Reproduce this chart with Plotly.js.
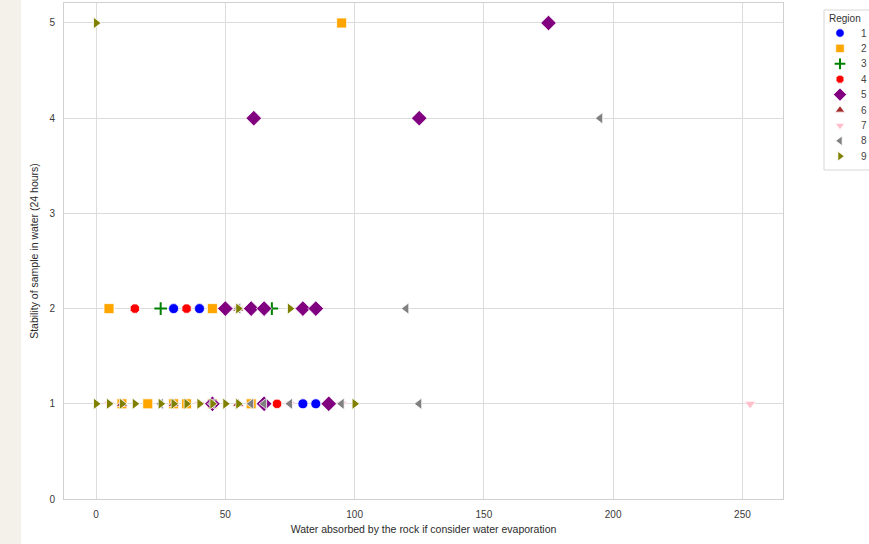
<!DOCTYPE html>
<html>
<head>
<meta charset="utf-8">
<script src="https://cdn.plot.ly/plotly-3.0.1.min.js"></script>
<style>
html,body{margin:0;padding:0;background:#f3f1ea;}
#wrap{position:absolute;left:21px;top:0;width:848px;height:544px;background:#ffffff;}
#chart{width:848px;height:544px;}
</style>
</head>
<body>
<div id="wrap"><div id="chart"></div></div>
<script>
// Data
const regions = ["1","2","3","4","5","6","7","8","9"];
const colors = ["#0000ff","#ffa500","#008000","#ff0000","#800080","#a52a2a","#ffc0cb","#808080","#808000"];
const symbols = ["circle","square","cross-thin-open","octagon","diamond","triangle-up","triangle-down","triangle-left","triangle-right"];

const r1x = [30, 40, 80, 85];
const r1y = [2, 2, 1, 1];
const r2x = [95, 5, 45, 10, 20, 30, 35, 45, 60];
const r2y = [5, 2, 2, 1, 1, 1, 1, 1, 1];
const r3x = [25, 68];
const r3y = [2, 2];
const r4x = [15, 35, 70];
const r4y = [2, 2, 1];
const r5x = [175, 61, 125, 50, 60, 65, 80, 85, 45, 65, 90];
const r5y = [5, 4, 4, 2, 2, 2, 2, 2, 1, 1, 1];
const r6x = [10, 30, 55, 55];
const r6y = [1, 1, 1, 2];
const r7x = [5, 40, 75, 95, 253, 55];
const r7y = [1, 1, 1, 1, 1, 2];
const r8x = [195, 120, 55, 25, 45, 60, 65, 75, 95, 125];
const r8y = [4, 2, 2, 1, 1, 1, 1, 1, 1, 1];
const r9x = [0, 55, 75, 0, 5, 10, 15, 25, 30, 35, 40, 45, 50, 55, 100];
const r9y = [5, 2, 2, 1, 1, 1, 1, 1, 1, 1, 1, 1, 1, 1, 1];

const xs = [r1x, r2x, r3x, r4x, r5x, r6x, r7x, r8x, r9x];
const ys = [r1y, r2y, r3y, r4y, r5y, r6y, r7y, r8y, r9y];

function markerFor(i, scale) {
  const isCross = symbols[i].startsWith("cross");
  let size = symbols[i] === "diamond" ? 12 : (isCross ? 9 : 10);
  return {
    symbol: symbols[i],
    color: colors[i],
    size: size * scale,
    line: isCross ? {color: colors[i], width: 2} : {color: "#ffffff", width: 0.8}
  };
}

const traces = regions.map((r, i) => ({
  type: "scatter",
  mode: "markers",
  name: r,
  x: xs[i],
  y: ys[i],
  xaxis: "x",
  yaxis: "y",
  marker: markerFor(i, 1),
  showlegend: false
}));

// Compact legend drawn on its own small axis (pixel-like coordinates)
const legendY0 = 33, legendStep = 15.4;
const legendAnn = [];
regions.forEach((r, i) => {
  traces.push({
    type: "scatter", mode: "markers", x: [840], y: [legendY0 + legendStep * i],
    xaxis: "x2", yaxis: "y2", marker: markerFor(i, 0.85), showlegend: false, hoverinfo: "skip"
  });
  legendAnn.push({
    xref: "x2", yref: "y2", x: 859, y: legendY0 + legendStep * i, text: r, showarrow: false,
    xanchor: "left", yanchor: "middle", font: {size: 10, color: "#444"}
  });
});
legendAnn.push({
  xref: "x2", yref: "y2", x: 845, y: 18, text: "Region", showarrow: false,
  xanchor: "center", yanchor: "middle", font: {size: 10, color: "#333"}
});

const plotLeft = 64, plotRight = 783, plotTop = 3, plotBottom = 499, fullRight = 869;
const W = fullRight - plotLeft;
const H = plotBottom - plotTop;

const layout = {
  width: 848,
  height: 544,
  paper_bgcolor: "#ffffff",
  plot_bgcolor: "rgba(0,0,0,0)",
  margin: {l: 43, r: 0, t: 3, b: 45, autoexpand: false},
  font: {family: "Liberation Sans, Arial, sans-serif", size: 10, color: "#3a3a3a"},
  showlegend: false,
  xaxis: {
    domain: [0, (plotRight - plotLeft) / W],
    range: [-12.4, 265.7],
    tickvals: [0, 50, 100, 150, 200, 250],
    showgrid: true, gridcolor: "#dcdcdc", gridwidth: 1,
    zeroline: false,
    showline: true, linecolor: "#d0d0d0", mirror: true,
    ticks: "",
    ticklabelstandoff: 6,
    tickfont: {size: 10, color: "#3a3a3a"},
    title: {text: "Water absorbed by the rock if consider water evaporation", font: {size: 10.5, color: "#2a2a2a"}, standoff: 6}
  },
  yaxis: {
    range: [0, 5.21],
    tickvals: [0, 1, 2, 3, 4, 5],
    showgrid: true, gridcolor: "#dcdcdc", gridwidth: 1,
    zeroline: false,
    showline: true, linecolor: "#d0d0d0", mirror: true,
    ticks: "",
    ticklabelstandoff: 6,
    tickfont: {size: 10, color: "#3a3a3a"},
    title: {text: "Stability of sample in water (24 hours)", font: {size: 10.5, color: "#2a2a2a"}, standoff: 8}
  },
  xaxis2: {
    domain: [(822 - plotLeft) / W, 1], range: [822, 869], anchor: "y2",
    visible: false, fixedrange: true
  },
  yaxis2: {
    domain: [0, 1], range: [plotBottom, plotTop], anchor: "x2",
    visible: false, fixedrange: true
  },
  shapes: [{
    type: "rect", xref: "paper", yref: "paper",
    x0: (824 - plotLeft) / W, x1: 1.05,
    y0: (plotBottom - 170) / H, y1: (plotBottom - 10) / H,
    line: {color: "#d6d6d6", width: 1}, fillcolor: "rgba(255,255,255,0)", layer: "below"
  }],
  annotations: legendAnn
};

Plotly.newPlot("chart", traces, layout, {displayModeBar: false, staticPlot: true});
</script>
</body>
</html>
